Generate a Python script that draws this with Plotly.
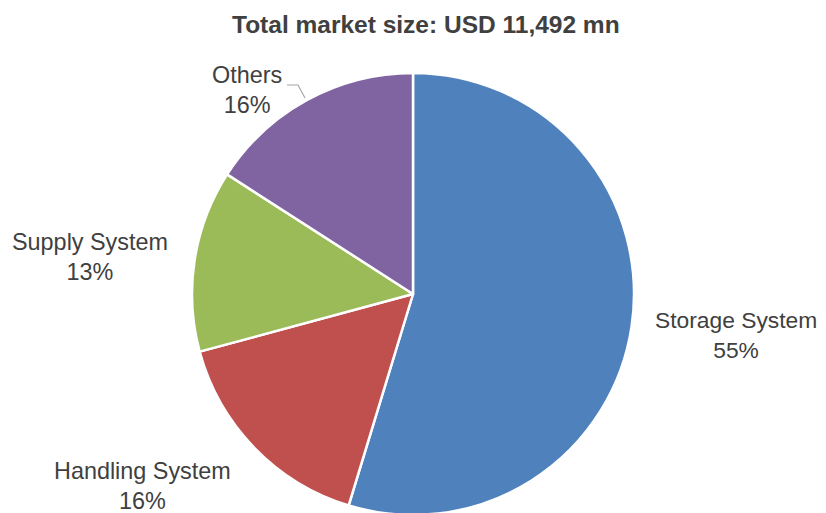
import plotly.graph_objects as go

# ---- data ----
categories = ["Storage System", "Handling System", "Supply System", "Others"]
shares = [54.7, 16.1, 13.3, 15.9]
pct_labels = ["55%", "16%", "13%", "16%"]
colors = ["#4F81BD", "#C0504D", "#9BBB59", "#8064A2"]
title_text = "Total market size: USD 11,492 mn"
subtitle_text = "Equipment market by type of system"

W, H = 818, 560
OX, OY = 8, 8  # page body margin

def px(x):
    return (x - OX) / W

def py(y):
    return 1 - (y - OY) / H

CX, CY, R = 413, 294, 221

fig = go.Figure()
fig.add_trace(go.Pie(
    labels=categories,
    values=shares,
    marker=dict(colors=colors, line=dict(color="white", width=2.5)),
    sort=False,
    direction="clockwise",
    rotation=0,
    textinfo="none",
    hoverinfo="label+percent",
    showlegend=False,
    domain=dict(x=[px(CX - R), px(CX + R)], y=[py(CY + R), py(CY - R)]),
))

# label positions (pixel centers of the two-line labels)
label_pos = {
    "Storage System": (736, 335),
    "Handling System": (142, 486),
    "Supply System": (90, 257),
    "Others": (247, 90),
}
label_size = {
    "Storage System": 22.8,
    "Handling System": 23.4,
    "Supply System": 23.4,
    "Others": 23.4,
}
annotations = []
for cat, pct in zip(categories, pct_labels):
    x, y = label_pos[cat]
    annotations.append(dict(
        x=px(x), y=py(y), xref="paper", yref="paper",
        text=f"{cat}<br>{pct}", showarrow=False,
        font=dict(family="Liberation Sans, Arial", size=label_size[cat], color="#404040"),
        align="center", xanchor="center", yanchor="middle",
    ))

annotations.append(dict(
    x=px(426), y=py(24), xref="paper", yref="paper",
    text=f"<b>{title_text}</b>", showarrow=False,
    font=dict(family="Liberation Sans, Arial", size=24.5, color="#404040"),
    xanchor="center", yanchor="middle",
))
annotations.append(dict(
    x=px(20), y=py(8), xref="paper", yref="paper",
    text=f"<i>{subtitle_text}</i>", showarrow=False,
    font=dict(family="Liberation Serif, Times New Roman", size=22, color="#000000"),
    xanchor="left", yanchor="bottom",
))

shapes = [
    dict(type="path", xref="paper", yref="paper",
         path=f"M {px(287)} {py(85)} L {px(298)} {py(85)} L {px(305)} {py(98)}",
         line=dict(color="#A6A6A6", width=1.2)),
]

fig.update_layout(
    width=W, height=H,
    margin=dict(l=0, r=0, t=0, b=0),
    paper_bgcolor="white",
    plot_bgcolor="white",
    annotations=annotations,
    shapes=shapes,
)

fig.write_html("out.html")
